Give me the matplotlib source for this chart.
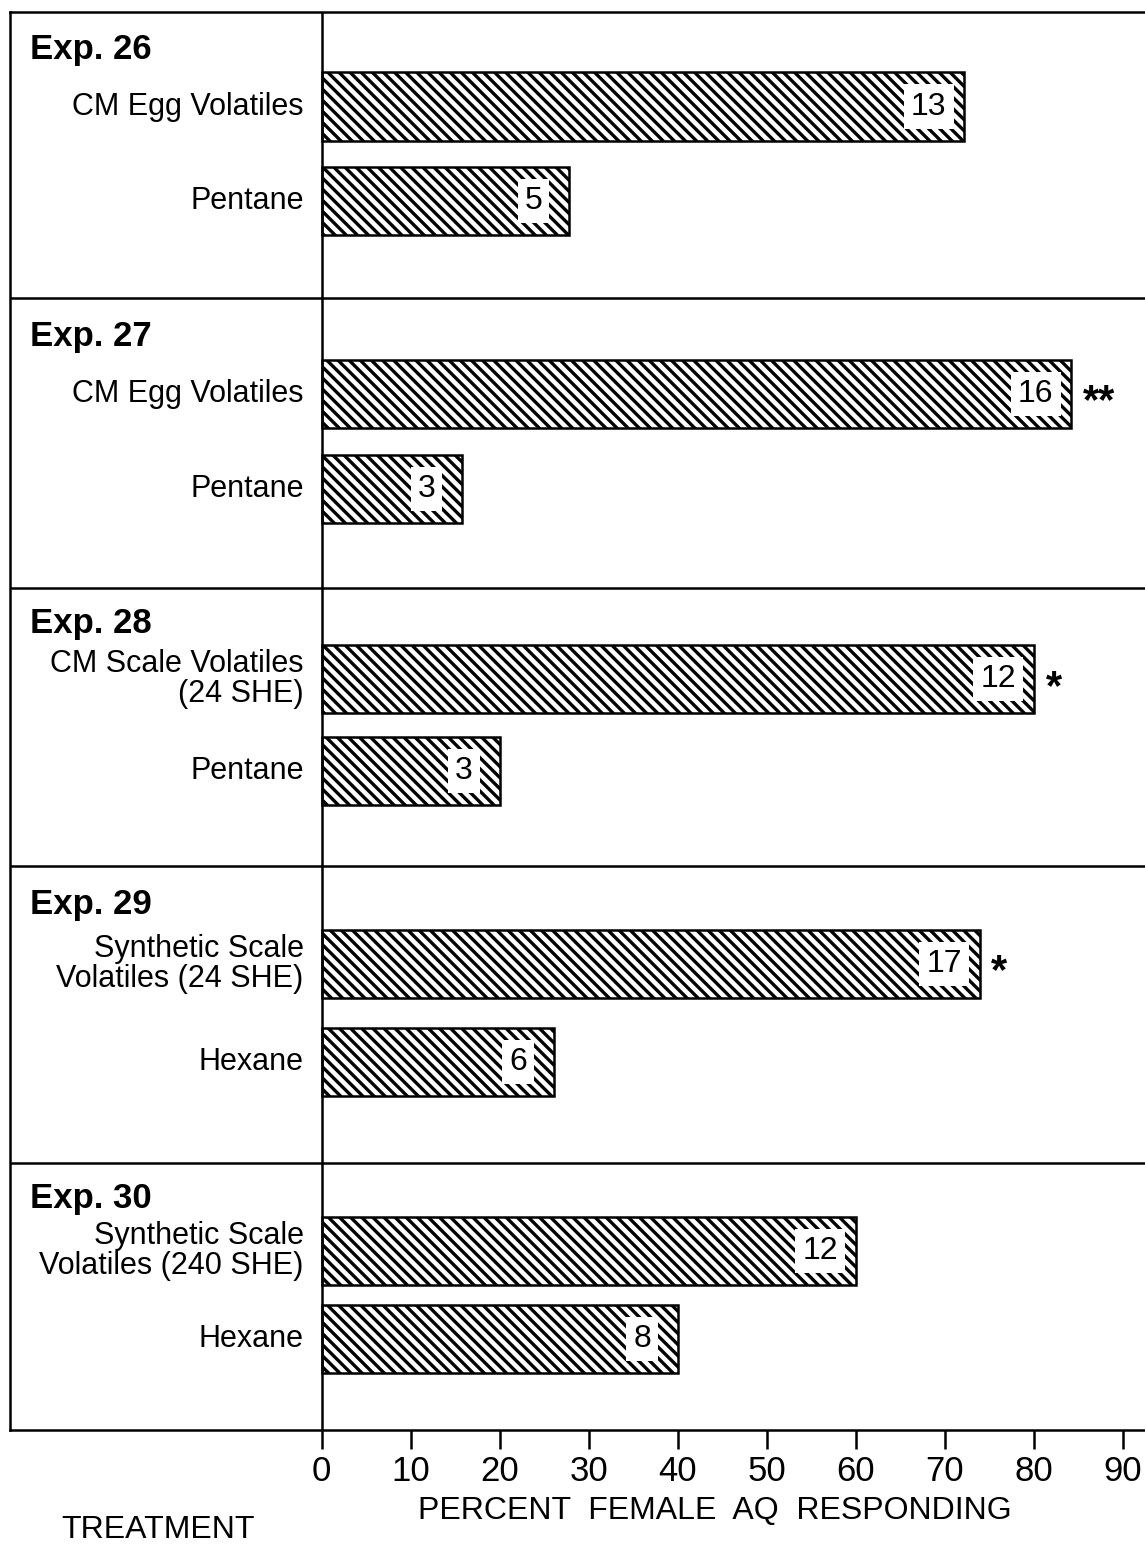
import matplotlib
matplotlib.use('Agg')
import matplotlib.pyplot as plt
import numpy as np

plt.rcParams['font.family'] = ['Liberation Sans', 'DejaVu Sans']
plt.rcParams['hatch.linewidth'] = 2.4

# five experiments, a treatment and a control each
experiments = ['Exp. 26', 'Exp. 27', 'Exp. 28', 'Exp. 29', 'Exp. 30']
treatments = ['CM Egg Volatiles', 'CM Egg Volatiles',
              'CM Scale Volatiles\n(24 SHE)', 'Synthetic Scale\nVolatiles (24 SHE)',
              'Synthetic Scale\nVolatiles (240 SHE)']
controls = ['Pentane', 'Pentane', 'Pentane', 'Hexane', 'Hexane']

# percent responding and number of females
treat_pct = [72.2, 84.2, 80.0, 73.9, 60.0]
ctrl_pct = [27.8, 15.8, 20.0, 26.1, 40.0]
treat_n = [13, 16, 12, 17, 12]
ctrl_n = [5, 3, 3, 6, 8]
signif = ['', '**', '*', '*', '']

xticks = [0, 10, 20, 30, 40, 50, 60, 70, 80, 90]

W, H = 1145, 1545
fig = plt.figure(figsize=(W / 100, H / 100), dpi=100)
ax = fig.add_axes([10 / W, 1 - 1430 / H, 1 - 10 / W, (1430 - 12) / H])

n = len(experiments)
# panel edges along the y axis (top of frame = 0, bottom = 5)
edges = np.array([0.0, 1.01, 2.03, 3.01, 4.06, 5.0])
top = edges[:-1]
span = np.diff(edges)
y_treat = top + 0.33 * span
y_ctrl = top + 0.66 * span
bar_h = 0.24

for ys, vals, counts in [(y_treat, treat_pct, treat_n), (y_ctrl, ctrl_pct, ctrl_n)]:
    ax.barh(ys, vals, height=bar_h, left=0, color='white', edgecolor='black',
            linewidth=1.8, hatch='\\\\\\', zorder=2)
    for y, v, c in zip(ys, vals, counts):
        ax.text(v - 4.0, y, str(c), ha='center', va='center', fontsize=23,
                zorder=4, bbox=dict(boxstyle='square,pad=0.22', fc='white', ec='none'))

for y, v, s in zip(y_treat, treat_pct, signif):
    if s:
        ax.text(v + 1.3, y + 0.03, s, ha='left', va='center', fontsize=30,
                fontweight='bold', zorder=4)

# row labels and experiment titles
for i in range(n):
    ax.text(-32.7, top[i] + 0.13 * span[i], experiments[i], ha='left', va='center',
            fontsize=25, fontweight='bold')
    ax.text(-2.0, y_treat[i], treatments[i], ha='right', va='center',
            fontsize=22, linespacing=1.0, multialignment='right')
    ax.text(-2.0, y_ctrl[i], controls[i], ha='right', va='center', fontsize=22)

# panel separators and the zero line
for e in edges[1:-1]:
    ax.axhline(e, color='black', lw=1.8, zorder=3)
ax.axvline(0, color='black', lw=1.8, zorder=3)

ax.set_xlim(-34.98, 92.47)
ax.set_ylim(edges[-1], edges[0])
ax.set_yticks([])
ax.set_xticks(xticks)
ax.set_xticklabels([str(t) for t in xticks], fontsize=25)
ax.tick_params(axis='x', direction='out', length=14, width=1.8, pad=4)
for side in ['top', 'bottom', 'left']:
    ax.spines[side].set_linewidth(1.8)
ax.spines['right'].set_visible(False)

fig.text(715 / W, 1 - 1511 / H, 'PERCENT  FEMALE  AQ  RESPONDING', ha='center',
         va='center', fontsize=23)
fig.text(158 / W, 1 - 1530 / H, 'TREATMENT', ha='center', va='center',
         fontsize=23)

fig.savefig('out.png', dpi=100)
